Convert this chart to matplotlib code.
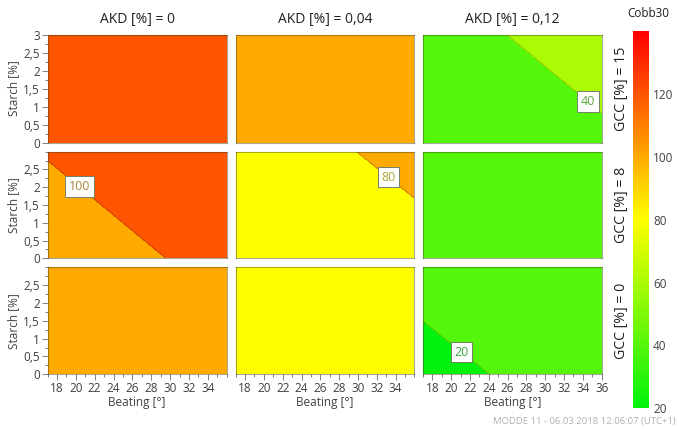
import matplotlib
matplotlib.use("Agg")
import matplotlib.pyplot as plt
import numpy as np
from matplotlib.colors import LinearSegmentedColormap, Normalize
from matplotlib.cm import ScalarMappable
from matplotlib.ticker import MultipleLocator, FixedLocator, FuncFormatter

plt.rcParams['font.family'] = ['Open Sans', 'DejaVu Sans']

# ---- data ----
beating = [17, 36]
starch = [0, 3]
akd_labels = ["AKD [%] = 0", "AKD [%] = 0,04", "AKD [%] = 0,12"]
gcc_labels = ["GCC [%] = 15", "GCC [%] = 8", "GCC [%] = 0"]
# corner values [[(17,0),(36,0)],[(17,3),(36,3)]] per panel, rows = GCC 15, 8, 0
cobb_gcc15_akd0 = [[108.0, 112.0], [113.0, 117.0]]
cobb_gcc15_akd004 = [[86.0, 92.0], [90.0, 96.0]]
cobb_gcc15_akd012 = [[25.1, 37.5], [34.2, 46.6]]
cobb_gcc8_akd0 = [[88.7, 105.8], [101.0, 118.1]]
cobb_gcc8_akd004 = [[65.8, 75.8], [73.3, 83.2]]
cobb_gcc8_akd012 = [[26.0, 32.0], [31.0, 37.0]]
cobb_gcc0_akd0 = [[84.0, 90.0], [88.0, 94.0]]
cobb_gcc0_akd004 = [[64.0, 70.0], [68.0, 74.0]]
cobb_gcc0_akd012 = [[15.8, 27.1], [24.3, 35.6]]
levels = [0, 20, 40, 60, 80, 100, 120, 140]
cbar_ticks = [20, 40, 60, 80, 100, 120]
# contour labels: (level, position)
labels_gcc15_akd012 = [(40, (34.5, 1.14))]
labels_gcc8_akd0 = [(100, (20.4, 2.03))]
labels_gcc8_akd004 = [(80, (33.2, 2.27))]
labels_gcc0_akd012 = [(20, (21.1, 0.62))]

panels = [
    [cobb_gcc15_akd0, cobb_gcc15_akd004, cobb_gcc15_akd012],
    [cobb_gcc8_akd0, cobb_gcc8_akd004, cobb_gcc8_akd012],
    [cobb_gcc0_akd0, cobb_gcc0_akd004, cobb_gcc0_akd012],
]
panel_labels = {(0, 2): labels_gcc15_akd012, (1, 0): labels_gcc8_akd0,
                (1, 1): labels_gcc8_akd004, (2, 2): labels_gcc0_akd012}

cmap = LinearSegmentedColormap.from_list(
    "gyr", [(0.0, (0.0, 0.95, 0.05)), (0.5, (1.0, 1.0, 0.0)), (1.0, (1.0, 0.0, 0.0))])
norm = Normalize(20, 140)
band_colors = [cmap(norm(max(l, 20))) for l in levels[1:]]

W, H = 679, 429
fig = plt.figure(figsize=(W / 100, H / 100), dpi=100)

col_x = [(47.5, 226.7), (235.7, 414.3), (423.0, 601.7)]
row_y = [(34.5, 142.7), (151.7, 258.3), (267.3, 374.3)]

tick_col = '#808080'
txt_col = '#404040'

def comma(v, pos):
    s = ('%g' % v).replace('.', ',')
    return s

X, Y = np.meshgrid(beating, starch)
for r in range(3):
    for c in range(3):
        x0, x1 = col_x[c]
        y0, y1 = row_y[r]
        ax = fig.add_axes([x0 / W, 1 - y1 / H, (x1 - x0) / W, (y1 - y0) / H])
        Z = np.array(panels[r][c])
        ax.contourf(X, Y, Z, levels=levels, colors=band_colors)
        ax.contour(X, Y, Z, levels=levels, colors=[(0, 0, 0, 0.22)], linewidths=0.6)
        ax.set_xlim(17, 36)
        ax.set_ylim(0, 3)
        for sp in ax.spines.values():
            sp.set_color((0.25, 0.25, 0.1, 0.45))
            sp.set_linewidth(0.8)
        # ticks
        xt = list(range(18, 37, 2)) if c == 2 else list(range(18, 35, 2))
        ax.xaxis.set_major_locator(FixedLocator(xt))
        ax.xaxis.set_minor_locator(MultipleLocator(1))
        yt = [0, 0.5, 1, 1.5, 2, 2.5, 3] if r == 0 else [0, 0.5, 1, 1.5, 2, 2.5]
        ax.yaxis.set_major_locator(FixedLocator(yt))
        ax.yaxis.set_minor_locator(MultipleLocator(0.25))
        ax.yaxis.set_major_formatter(FuncFormatter(comma))
        ax.tick_params(which='both', direction='out', color=tick_col, labelcolor=txt_col,
                       labelsize=8.5, width=0.7)
        ax.tick_params(which='major', length=4, pad=1.5)
        ax.tick_params(which='minor', length=2.5)
        if r < 2:
            ax.tick_params(axis='x', which='both', bottom=False, labelbottom=False)
        else:
            ax.set_xlabel("Beating [°]", fontsize=8.5, color=txt_col, labelpad=1)
        if c > 0:
            ax.tick_params(axis='y', which='both', left=False, labelleft=False)
        else:
            ax.set_ylabel("Starch [%]", fontsize=8.5, color=txt_col, labelpad=2)
        if r == 0:
            ax.set_title(akd_labels[c], fontsize=10, color='#202020', pad=8)
        if c == 2:
            ax.text(1 + (622 - x1) / (x1 - x0), 0.5, gcc_labels[r], transform=ax.transAxes,
                    rotation=90, ha='center', va='center', fontsize=10.2, color='#202020')
        if (r, c) in panel_labels:
            for lev, pos in panel_labels[(r, c)]:
                cs_l = ax.contour(X, Y, Z, levels=[lev], colors=[(0, 0, 0, 0)], linewidths=0)
                lbls = ax.clabel(cs_l, manual=[pos], inline=False, fmt='%d', fontsize=9)
                band = np.array(cmap(norm(lev))[:3])
                tc = tuple(0.55 * band * 0.8 + 0.45 * 0.5)
                for t in lbls:
                    t.set_rotation(0)
                    t.set_color(tc)
                    t.set_bbox(dict(boxstyle='square,pad=0.3', fc='white',
                                    ec=(0.45, 0.5, 0.4), lw=0.7))

# colorbar
cax = fig.add_axes([632.7 / W, 1 - 408.3 / H, 16.3 / W, 377.3 / H])
sm = ScalarMappable(norm=norm, cmap=cmap)
cb = fig.colorbar(sm, cax=cax, ticks=cbar_ticks)
cb.outline.set_visible(False)
cax.tick_params(length=0, labelsize=8.5, labelcolor=txt_col, pad=3)
cax.text(0.5 + 7 / 16.3, 1 + 17 / 377.3, "Cobb30", transform=cax.transAxes,
         ha='center', va='center', fontsize=8.5, color='#202020')

fig.text(676 / W, 1 - 421.5 / H, "MODDE 11 - 06.03.2018 12:06:07 (UTC+1)", fontsize=6.8,
         color='#b0b0b0', ha='right', va='center')

fig.savefig("out.png", dpi=100)
